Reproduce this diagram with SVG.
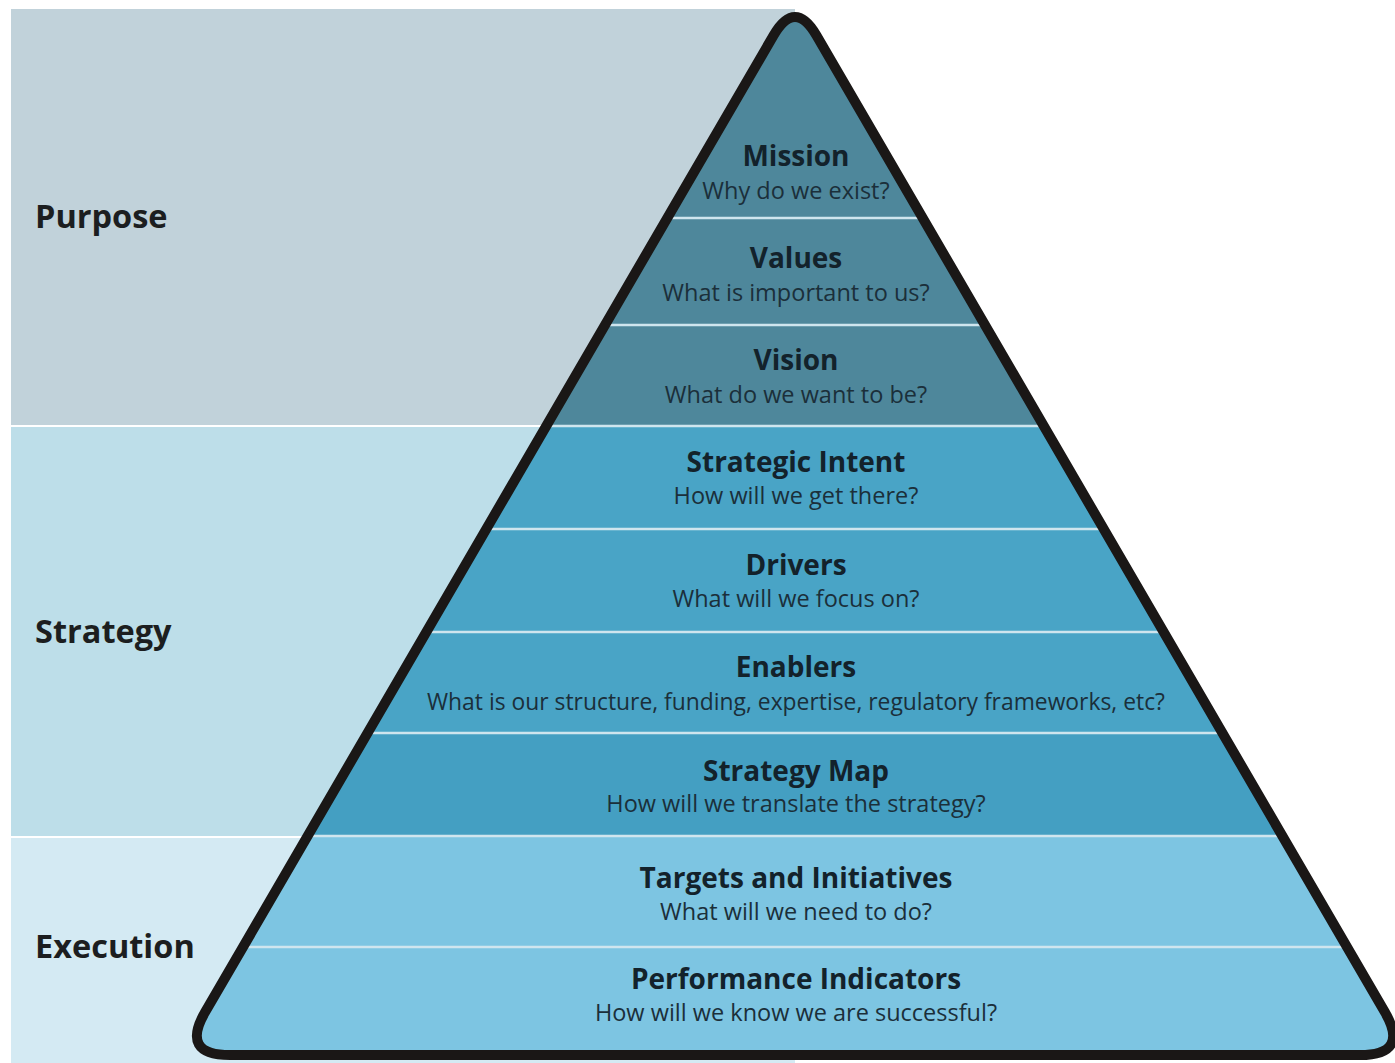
<svg xmlns="http://www.w3.org/2000/svg" width="1395" height="1063" viewBox="0 0 1395 1063">
<style>
.lbl{font-family:"Open Sans","Liberation Sans",sans-serif;font-weight:bold;font-size:32.5px;fill:#1c1e20}
.t{font-family:"Open Sans","Liberation Sans",sans-serif;font-weight:bold;font-size:28px;fill:#13222b;text-anchor:middle}
.s{font-family:"Open Sans","Liberation Sans",sans-serif;font-size:23.5px;fill:#1b2f3a;text-anchor:middle}
.sep{stroke:#cfe5ee;stroke-width:2.5;fill:none}
</style>
<defs>
<path id="tri" d="M773.5,35.5 L205.3,1011.8 Q180.1,1055 230.1,1055 L1359.9,1055 Q1409.9,1055 1384.7,1011.8 L816.5,35.5 Q795,-1.5 773.5,35.5 Z"/>
<clipPath id="triClip"><use href="#tri"/></clipPath>
</defs>
<rect width="1395" height="1063" fill="#ffffff"/>
<g id="bands">
<rect x="11" y="9" width="784" height="416" fill="#c1d2da"/>
<rect x="11" y="427" width="784" height="409" fill="#bddee9"/>
<rect x="11" y="838" width="784" height="225" fill="#d4eaf3"/>
</g>
<g id="labels">
<text class="lbl" x="35" y="228">Purpose</text>
<text class="lbl" x="35" y="643">Strategy</text>
<text class="lbl" x="35" y="958">Execution</text>
</g>
<g id="pyramid-fill" clip-path="url(#triClip)">
<rect x="0" y="0" width="1395" height="426" fill="#4e879b"/>
<rect x="0" y="426" width="1395" height="410" fill="#49a4c6"/>
<rect x="0" y="733" width="1395" height="103" fill="#449fc2"/>
<rect x="0" y="836" width="1395" height="227" fill="#7dc5e2"/>
</g>
<g id="connectors" clip-path="url(#triClip)">
<line class="sep" x1="0" y1="218" x2="1395" y2="218"/>
<line class="sep" x1="0" y1="325" x2="1395" y2="325"/>
<line class="sep" x1="0" y1="426" x2="1395" y2="426"/>
<line class="sep" x1="0" y1="529" x2="1395" y2="529"/>
<line class="sep" x1="0" y1="632" x2="1395" y2="632"/>
<line class="sep" x1="0" y1="733" x2="1395" y2="733"/>
<line class="sep" x1="0" y1="836" x2="1395" y2="836"/>
<line class="sep" x1="0" y1="947" x2="1395" y2="947"/>
</g>
<use href="#tri" fill="none" stroke="#1a1716" stroke-width="10"/>
<g id="mission"><text class="t" x="796" y="166">Mission</text><text class="s" x="796" y="199">Why do we exist?</text></g>
<g id="values"><text class="t" x="796" y="268">Values</text><text class="s" x="796" y="301">What is important to us?</text></g>
<g id="vision"><text class="t" x="796" y="370">Vision</text><text class="s" x="796" y="403">What do we want to be?</text></g>
<g id="strategic-intent"><text class="t" x="796" y="472">Strategic Intent</text><text class="s" x="796" y="504">How will we get there?</text></g>
<g id="drivers"><text class="t" x="796" y="575">Drivers</text><text class="s" x="796" y="607">What will we focus on?</text></g>
<g id="enablers"><text class="t" x="796" y="677">Enablers</text><text class="s" x="796" y="710" textLength="738" lengthAdjust="spacingAndGlyphs">What is our structure, funding, expertise, regulatory frameworks, etc?</text></g>
<g id="strategy-map"><text class="t" x="796" y="781">Strategy Map</text><text class="s" x="796" y="812">How will we translate the strategy?</text></g>
<g id="targets"><text class="t" x="796" y="888">Targets and Initiatives</text><text class="s" x="796" y="920">What will we need to do?</text></g>
<g id="performance"><text class="t" x="796" y="989">Performance Indicators</text><text class="s" x="796" y="1021">How will we know we are successful?</text></g>
</svg>
